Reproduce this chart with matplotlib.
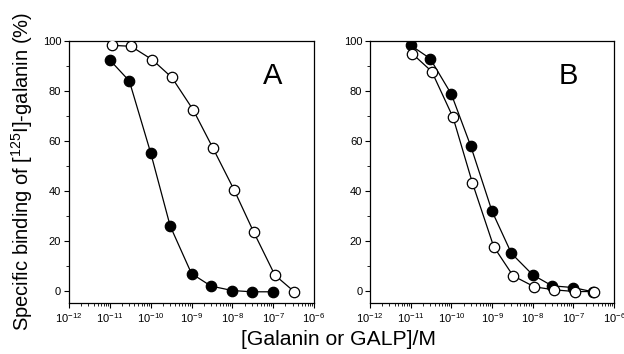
import matplotlib
matplotlib.use("Agg")
import math
import matplotlib.pyplot as plt
from matplotlib.ticker import LogLocator, FixedLocator, FuncFormatter

plt.rcParams['font.family'] = ['Liberation Sans', 'DejaVu Sans']
plt.rcParams['mathtext.fontset'] = 'custom'
plt.rcParams['mathtext.rm'] = 'Liberation Sans'
plt.rcParams['mathtext.it'] = 'Liberation Sans:italic'
plt.rcParams['mathtext.bf'] = 'Liberation Sans:bold'

# concentrations (M)
conc_filled  = [1e-11, 3e-11, 1e-10, 3e-10, 1e-9, 3e-9, 1e-8, 3e-8, 1e-7]
conc_open    = [1.1e-11, 3.3e-11, 1.1e-10, 3.3e-10, 1.1e-9, 3.3e-9, 1.1e-8, 3.3e-8, 1.1e-7, 3.3e-7]
conc_filledB = [1e-11, 3e-11, 1e-10, 3e-10, 1e-9, 3e-9, 1e-8, 3e-8, 1e-7, 3e-7]

# panel A
a_filled = [92.4, 84.0, 55.2, 25.9, 6.8, 1.8, 0.0, -0.5, -0.5]
a_open   = [98.3, 97.9, 92.5, 85.4, 72.4, 57.3, 40.4, 23.6, 6.2, -0.5]
# panel B
b_filled = [98.3, 93.0, 78.7, 57.9, 31.8, 14.9, 6.3, 1.9, 1.2, -0.5]
b_open   = [94.9, 87.8, 69.4, 43.1, 17.6, 5.9, 1.5, 0.3, -0.4, -0.4]

panels = [("A", conc_filled, a_filled, conc_open, a_open, 0.832),
          ("B", conc_filledB, b_filled, conc_open, b_open, 0.813)]

fig = plt.figure(figsize=(6.24, 3.54), dpi=100)
ax_pos = [[0.1106, 0.144, 0.3926, 0.740], [0.593, 0.144, 0.391, 0.740]]

def fmt(x, pos):
    e = int(round(math.log10(x)))
    return r'10$^{%d}$' % e

for pos, (lab, xf, yf, xo, yo, lx) in zip(ax_pos, panels):
    ax = fig.add_axes(pos)
    ax.plot(xf, yf, '-', color='black', lw=0.9, marker='o', ms=7.5,
            mfc='black', mec='black', mew=0.9, zorder=3)
    ax.plot(xo, yo, '-', color='black', lw=0.9, marker='o', ms=7.5,
            mfc='white', mec='black', mew=0.9, zorder=4)
    ax.set_xscale('log')
    ax.set_xlim(1e-12, 1e-6)
    ax.set_ylim(-5, 100)
    ax.xaxis.set_major_locator(LogLocator(base=10, numticks=10))
    ax.xaxis.set_minor_locator(LogLocator(base=10, subs=range(2, 10), numticks=20))
    ax.xaxis.set_major_formatter(FuncFormatter(fmt))
    ax.yaxis.set_major_locator(FixedLocator([0, 20, 40, 60, 80, 100]))
    ax.yaxis.set_minor_locator(FixedLocator([10, 30, 50, 70, 90]))
    ax.tick_params(which='major', direction='out', length=3.6, width=0.8, labelsize=8, pad=2)
    ax.tick_params(which='minor', direction='out', length=2.2, width=0.6)
    for s in ax.spines.values():
        s.set_linewidth(0.9)
    ax.text(lx, 0.867, lab, transform=ax.transAxes, fontsize=21,
            ha='center', va='center')

fig.text(0.036, 0.515, r'Specific binding of [$^{125}$I]-galanin (%)', fontsize=14.5,
         rotation=90, ha='center', va='center')
fig.text(0.5425, 0.042, '[Galanin or GALP]/M', fontsize=15.2, ha='center', va='center')

fig.savefig('out.png', dpi=100)
